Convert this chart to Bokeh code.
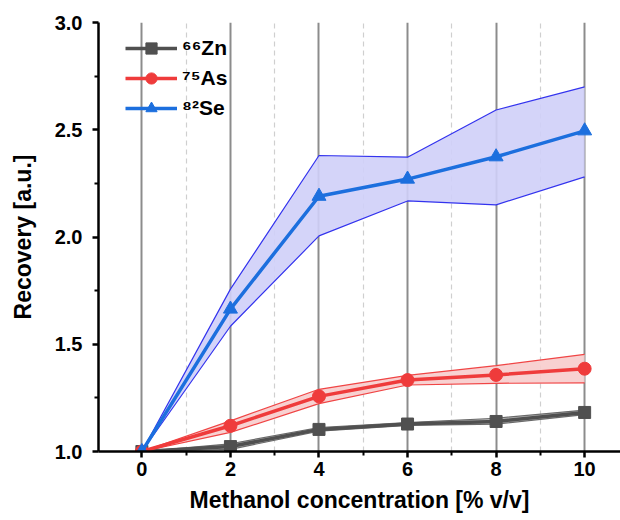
from bokeh.plotting import figure
from bokeh.models import Legend, LegendItem, FixedTicker, Range1d
from bokeh.embed import file_html
from bokeh.resources import INLINE

# ---- data ----
conc = [0, 2, 4, 6, 8, 10]

zn_mean = [1.0, 1.023, 1.103, 1.128, 1.14, 1.182]
zn_low = [1.0, 1.010, 1.095, 1.122, 1.128, 1.172]
zn_high = [1.0, 1.036, 1.112, 1.135, 1.155, 1.193]

as_mean = [1.0, 1.120, 1.257, 1.333, 1.357, 1.386]
as_low = [1.0, 1.089, 1.223, 1.310, 1.318, 1.320]
as_high = [1.0, 1.143, 1.290, 1.355, 1.400, 1.453]

se_mean = [1.0, 1.664, 2.190, 2.270, 2.374, 2.495]
se_low = [1.0, 1.584, 2.005, 2.168, 2.150, 2.280]
se_high = [1.0, 1.757, 2.380, 2.372, 2.592, 2.700]

labels = ["\u2076\u2076Zn", "\u2077\u2075As", "\u2078\u00b2Se"]
x_ticks = [0, 2, 4, 6, 8, 10]
y_ticks = [1.0, 1.5, 2.0, 2.5, 3.0]

FONT = "Liberation Sans"

W, H = 620, 520
B_LEFT, B_TOP, B_BOTTOM = 98, 22, 69

p = figure(width=W, height=H, output_backend="svg", toolbar_location=None,
           x_range=Range1d(-0.98, 10.81), y_range=Range1d(1.0, 3.0),
           min_border_left=B_LEFT, min_border_right=0, min_border_top=B_TOP,
           min_border_bottom=B_BOTTOM)
p.outline_line_color = None
p.background_fill_color = "white"

# grid
p.ygrid.grid_line_color = None
p.xgrid.ticker = FixedTicker(ticks=x_ticks, minor_ticks=[1, 3, 5, 7, 9])
p.xgrid.grid_line_color = "#8c8c8c"
p.xgrid.grid_line_width = 2
p.xgrid.minor_grid_line_color = "#cfcfcf"
p.xgrid.minor_grid_line_dash = "5 4"
p.xgrid.minor_grid_line_width = 1.2

# axes
for ax in (p.xaxis[0], p.yaxis[0]):
    ax.axis_line_width = 2.5
    ax.axis_line_color = "black"
    ax.major_tick_line_width = 2.5
    ax.minor_tick_line_width = 2
    ax.major_tick_line_color = "black"
    ax.minor_tick_line_color = "black"
    ax.major_tick_out = 6
    ax.major_tick_in = 0
    ax.minor_tick_out = 4
    ax.minor_tick_in = 0
    ax.major_label_text_font = FONT
    ax.major_label_text_font_style = "bold"
    ax.major_label_text_font_size = "20px"
    ax.major_label_text_color = "black"
    ax.axis_label_text_font = FONT
    ax.axis_label_text_font_style = "bold"
    ax.axis_label_text_font_size = "23px"
    ax.axis_label_text_color = "black"

p.xaxis.ticker = FixedTicker(ticks=x_ticks, minor_ticks=[1, 3, 5, 7, 9])
p.yaxis.ticker = FixedTicker(ticks=y_ticks, minor_ticks=[1.25, 1.75, 2.25, 2.75])
p.yaxis[0].major_label_overrides = {v: f"{v:.1f}" for v in y_ticks}
p.xaxis.axis_label = "Methanol concentration [% v/v]"
p.yaxis.axis_label = "Recovery [a.u.]"
p.xaxis.major_label_standoff = 4
p.xaxis.axis_label_standoff = 8
p.yaxis.major_label_standoff = 10
p.yaxis.axis_label_standoff = 16

series = [
    (zn_mean, zn_low, zn_high, "#505050", "#b4b4b4", "#6a6a6a", "square", 12),
    (as_mean, as_low, as_high, "#ef3b3b", "#f7cccc", "#f04545", "circle", 13),
    (se_mean, se_low, se_high, "#1c6fde", "#cfcff8", "#3333ee", "triangle", 14),
]

for (m, lo, hi, col, fill, edge, mk, sz) in series:
    p.varea(x=conc, y1=lo, y2=hi, fill_color=fill, fill_alpha=0.9)
    p.line(conc, lo, line_color=edge, line_width=1.2)
    p.line(conc, hi, line_color=edge, line_width=1.2)

items = []
for (m, lo, hi, col, fill, edge, mk, sz), lab in zip(series, labels):
    ln = p.line(conc, m, line_color=col, line_width=3.5)
    sc = p.scatter(conc, m, marker=mk, size=sz, fill_color=col, line_color=col)
    items.append(LegendItem(label=lab, renderers=[ln, sc]))

frame_h = H - B_TOP - B_BOTTOM
row_h, spacing = 28, 2
legend_h = 3 * row_h + 2 * spacing
legend = Legend(items=items, location=(27, frame_h - 12 - legend_h),
                orientation="vertical",
                glyph_width=52, glyph_height=row_h, label_height=row_h,
                spacing=spacing, label_standoff=5, padding=0, margin=0,
                background_fill_alpha=0, border_line_alpha=0,
                label_text_font=FONT, label_text_font_style="bold",
                label_text_font_size="21px", label_text_color="black")
p.add_layout(legend)

open("out.html", "w").write(file_html(p, INLINE))
